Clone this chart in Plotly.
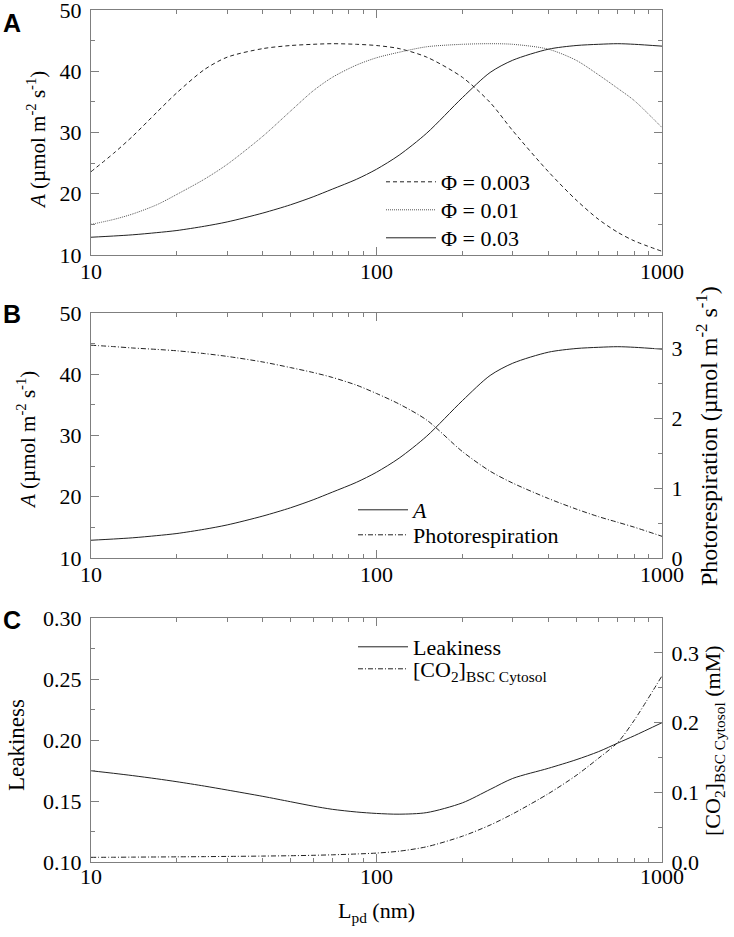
import plotly.graph_objects as go

# ---------------- data ----------------
L_pd = [10, 12, 14, 17, 20, 25, 30, 40, 50, 60, 70, 85, 100, 120, 150, 200,
        250, 300, 400, 500, 600, 700, 800, 1000]

A_phi_0003 = [23.6, 26.6, 29.4, 33.3, 36.5, 40.3, 42.3, 43.7, 44.2, 44.4, 44.5, 44.4,
              44.2, 43.7, 42.3, 39.0, 34.9, 30.3, 23.6, 19.0, 15.8, 13.7, 12.3, 10.6]
A_phi_001 = [15.0, 15.8, 16.7, 18.2, 19.9, 22.4, 24.8, 29.4, 33.5, 36.8, 39.0, 41.0,
             42.2, 43.1, 44.0, 44.4, 44.5, 44.4, 43.6, 41.8, 39.4, 37.2, 35.2, 30.8]
A_phi_003 = [12.9, 13.1, 13.3, 13.65, 14.0, 14.7, 15.4, 16.85, 18.2, 19.5, 20.75, 22.35,
             24.0, 26.3, 29.9, 35.7, 39.8, 41.8, 43.6, 44.2, 44.4, 44.5, 44.4, 44.1]
photoresp = [3.04, 3.02, 3.00, 2.98, 2.96, 2.92, 2.88, 2.80, 2.72, 2.65, 2.58, 2.47,
             2.35, 2.20, 1.97, 1.52, 1.24, 1.07, 0.85, 0.70, 0.59, 0.51, 0.44, 0.31]
leakiness = [0.1748, 0.1727, 0.1708, 0.1682, 0.1658, 0.1622, 0.1590, 0.1538, 0.1494,
             0.1458, 0.1432, 0.1410, 0.1398, 0.1392, 0.1405, 0.1485, 0.1595, 0.1685,
             0.1768, 0.1838, 0.1905, 0.1975, 0.2035, 0.2142]
co2_bsc = [0.0067, 0.0068, 0.0070, 0.0072, 0.0074, 0.0077, 0.0080, 0.0085, 0.0090,
           0.0096, 0.0103, 0.0115, 0.0128, 0.0155, 0.0219, 0.0370, 0.0530, 0.0690,
           0.0980, 0.1240, 0.1490, 0.1716, 0.2035, 0.2670]

x_tickvals = [10, 100, 1000]
x_ticktext = ["10", "100", "1000"]
x_minor = [20, 30, 40, 50, 60, 70, 80, 90, 200, 300, 400, 500, 600, 700, 800, 900]

# ---------------- layout helpers ----------------
W, H = 734, 937
SERIF = "Liberation Serif"
AX = "#7f7f7f"
LC = "#222222"
FS = 22


def px_x(p):
    return p / W


def px_y(p):
    return 1 - p / H


X0, X1 = 91, 662
panels = [(10, 255), (313, 558), (618, 862)]


def xaxis(anchor, standoff):
    return dict(type="log", range=[1, 3], domain=[px_x(X0), px_x(X1)], anchor=anchor,
                automargin=False, ticklabeloverflow="allow",
                showline=True, linecolor=AX, linewidth=1, mirror="ticks",
                ticks="inside", ticklen=8, tickcolor=AX, tickwidth=1,
                tickvals=x_tickvals, ticktext=x_ticktext,
                minor=dict(ticks="inside", ticklen=4, tickcolor=AX, tickvals=x_minor),
                showgrid=False, zeroline=False, ticklabelstandoff=standoff,
                tickfont=dict(family=SERIF, size=FS, color="black"))


def yaxis(dom, rng, dtick, mdtick, fmt, mirror, side="left", anchor=None, overlaying=None):
    d = dict(range=rng, automargin=False, ticklabeloverflow="allow",
             showline=True, linecolor=AX, linewidth=1, mirror=mirror,
             ticks="inside", ticklen=8, tickcolor=AX, tickwidth=1, dtick=dtick,
             tick0=0, tickformat=fmt,
             minor=dict(ticks="inside", ticklen=4, tickcolor=AX, dtick=mdtick, tick0=0),
             showgrid=False, zeroline=False, side=side, ticklabelstandoff=4,
             tickfont=dict(family=SERIF, size=FS, color="black"))
    if dom is not None:
        d["domain"] = dom
    if anchor:
        d["anchor"] = anchor
    if overlaying:
        d["overlaying"] = overlaying
    return d


def line(color=LC, dash="solid"):
    return dict(color=color, width=1, dash=dash, shape="spline", smoothing=0.8)


DASHDOT = "5px,2px,1px,2px"

fig = go.Figure()

# Panel A
fig.add_trace(go.Scatter(x=L_pd, y=A_phi_0003, mode="lines", name="Φ = 0.003",
                         line=line(dash="4px,3px"), xaxis="x", yaxis="y", legend="legend"))
fig.add_trace(go.Scatter(x=L_pd, y=A_phi_001, mode="lines", name="Φ = 0.01",
                         line=line(color="#555555", dash="1px,1px"), xaxis="x", yaxis="y",
                         legend="legend2"))
fig.add_trace(go.Scatter(x=L_pd, y=A_phi_003, mode="lines", name="Φ = 0.03",
                         line=line(), xaxis="x", yaxis="y", legend="legend3"))
# Panel B
fig.add_trace(go.Scatter(x=L_pd, y=A_phi_003, mode="lines", name="<i>A</i>",
                         line=line(), xaxis="x2", yaxis="y2", legend="legend4"))
fig.add_trace(go.Scatter(x=L_pd, y=photoresp, mode="lines", name="Photorespiration",
                         line=line(dash=DASHDOT), xaxis="x2", yaxis="y4", legend="legend5"))
# Panel C
fig.add_trace(go.Scatter(x=L_pd, y=leakiness, mode="lines", name="Leakiness",
                         line=line(), xaxis="x3", yaxis="y3", legend="legend6"))
fig.add_trace(go.Scatter(x=L_pd, y=co2_bsc, mode="lines",
                         name="[CO<sub>2</sub>]<sub>BSC Cytosol</sub>",
                         line=line(dash=DASHDOT), xaxis="x3", yaxis="y5", legend="legend7"))

domA = [px_y(panels[0][1]), px_y(panels[0][0])]
domB = [px_y(panels[1][1]), px_y(panels[1][0])]
domC = [px_y(panels[2][1]), px_y(panels[2][0])]


def leg(xp, ytop):
    return dict(x=px_x(xp), y=px_y(ytop), xanchor="left", yanchor="top",
                font=dict(family=SERIF, size=FS, color="black"), bgcolor="rgba(0,0,0,0)",
                itemwidth=50, borderwidth=0)


fig.update_layout(
    template="none",
    width=W, height=H, margin=dict(l=0, r=0, t=0, b=0, autoexpand=False),
    paper_bgcolor="white", plot_bgcolor="white",
    font=dict(family=SERIF, size=FS, color="black"),
    xaxis=xaxis("y", -3),
    xaxis2=xaxis("y2", -3),
    xaxis3=xaxis("y3", -5),
    yaxis=yaxis(domA, [10, 50], 10, 5, "d", "ticks", anchor="x"),
    yaxis2=yaxis(domB, [10, 50], 10, 5, "d", False, anchor="x2"),
    yaxis3=yaxis(domC, [0.10, 0.30], 0.05, 0.025, ".2f", False, anchor="x3"),
    yaxis4=yaxis(None, [0, 3.5], 1, 0.5, "d", False, side="right", anchor="x2", overlaying="y2"),
    yaxis5=yaxis(None, [0, 0.35], 0.1, 0.05, ".1f", False, side="right", anchor="x3", overlaying="y3"),
    legend=leg(381, 161),
    legend2=leg(381, 189),
    legend3=leg(381, 217),
    legend4=leg(353, 489),
    legend5=leg(353, 514),
    legend6=leg(353, 626),
    legend7=leg(353, 648),
    showlegend=True,
)

ann = []
# panel letters
for lab, ytop in [("A", 7), ("B", 298), ("C", 604)]:
    ann.append(dict(text=f"<b>{lab}</b>", x=px_x(1), y=px_y(ytop), xref="paper", yref="paper",
                    xanchor="left", yanchor="top", showarrow=False,
                    font=dict(family="Liberation Sans", size=25, color="black")))
# axis titles
ylab = "<i>A</i> (µmol m<sup>-2</sup> s<sup>-1</sup>)"
TFA = dict(family=SERIF, size=21, color="black")
ann.append(dict(text=ylab, x=px_x(37), y=px_y(140), xref="paper", yref="paper",
                textangle=-90, showarrow=False, xanchor="center", yanchor="middle", font=TFA))
ann.append(dict(text=ylab, x=px_x(27), y=px_y(440), xref="paper", yref="paper",
                textangle=-90, showarrow=False, xanchor="center", yanchor="middle", font=TFA))
ann.append(dict(text="Photorespiration (µmol m<sup>-2</sup> s<sup>-1</sup>)", x=px_x(707),
                y=px_y(436), xref="paper", yref="paper", textangle=-90, showarrow=False,
                xanchor="center", yanchor="middle",
                font=dict(family=SERIF, size=24, color="black")))
ann.append(dict(text="Leakiness", x=px_x(16), y=px_y(745), xref="paper", yref="paper",
                textangle=-90, showarrow=False, xanchor="center", yanchor="middle",
                font=dict(family=SERIF, size=23, color="black")))
ann.append(dict(text="[CO<sub>2</sub>]<sub>BSC Cytosol</sub> (mM)", x=px_x(714), y=px_y(741),
                xref="paper", yref="paper", textangle=-90, showarrow=False,
                xanchor="center", yanchor="middle", font=dict(family=SERIF, size=22, color="black")))
ann.append(dict(text="L<sub>pd</sub> (nm)", x=px_x(376), y=px_y(912), xref="paper", yref="paper",
                showarrow=False, xanchor="center", yanchor="middle",
                font=dict(family=SERIF, size=22, color="black")))
fig.update_layout(annotations=ann)

fig.write_html("out.html", config={"displayModeBar": False},
               post_script="document.body.style.margin='0';")
